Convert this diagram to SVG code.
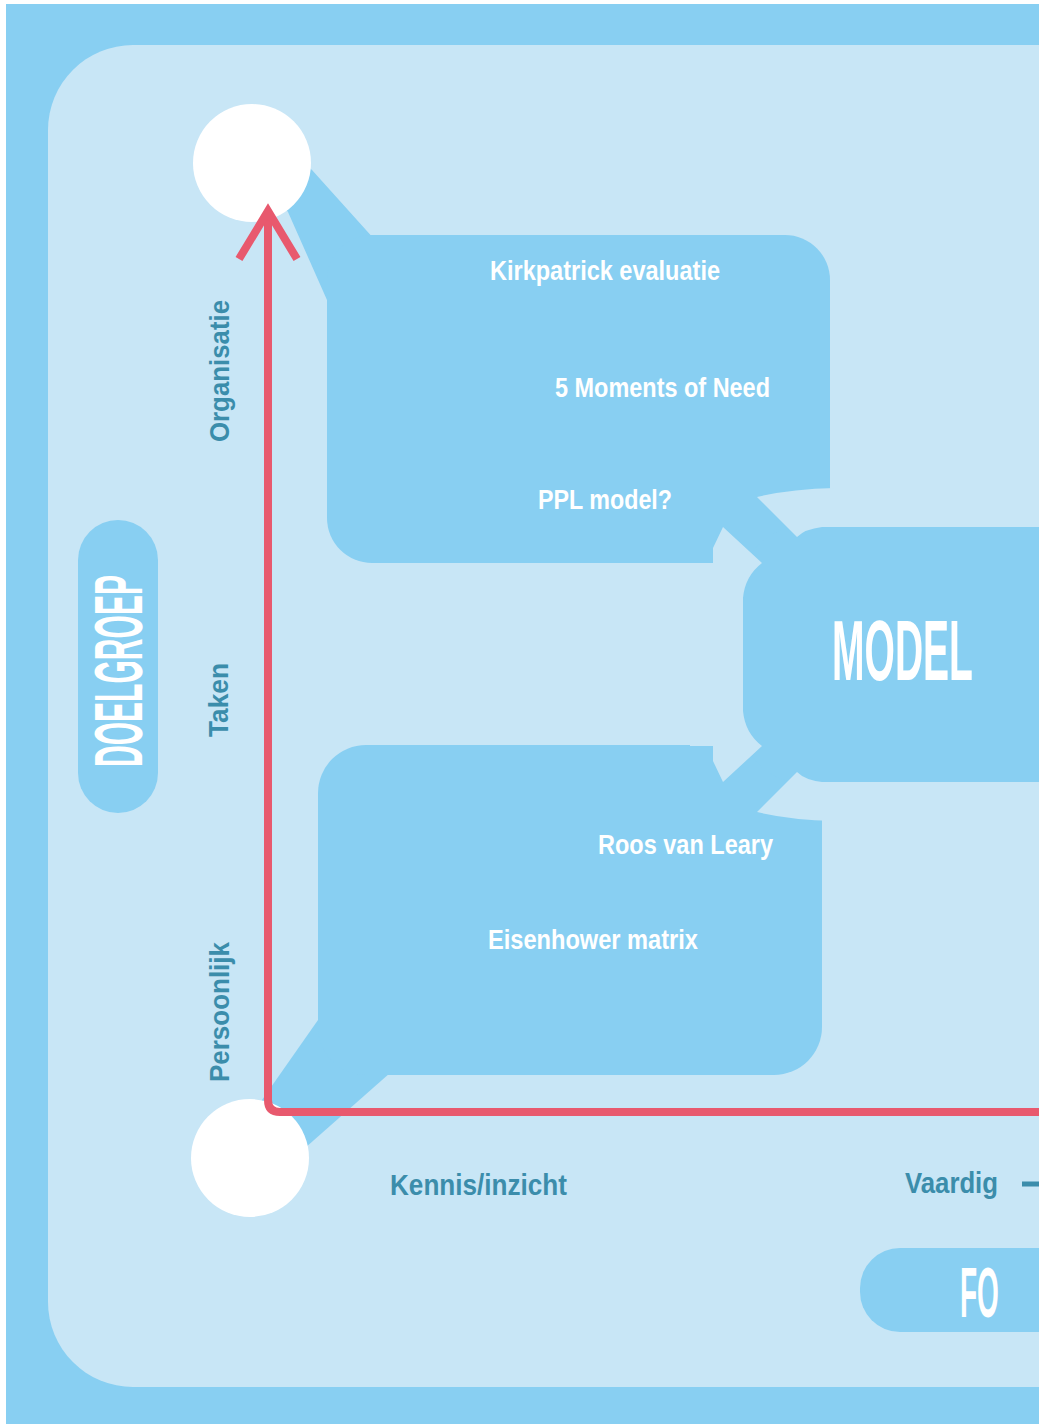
<svg xmlns="http://www.w3.org/2000/svg" width="1039" height="1424" viewBox="0 0 1039 1424">
<style>
.mid{fill:#88cff2}
.lt{fill:#c8e6f6}
.wt{fill:#ffffff;font-family:"Liberation Sans",Arial,sans-serif;font-weight:bold}
.tl{fill:#3b8dab;font-family:"Liberation Sans",Arial,sans-serif;font-weight:bold}
.big{fill:#ffffff;font-family:"Liberation Sans",Arial,sans-serif;font-weight:bold}
.red{fill:none;stroke:#e8596e;stroke-width:8}
</style>
<rect x="0" y="0" width="1039" height="1424" fill="#ffffff"/>
<rect x="6" y="4" width="1040" height="1430" class="mid"/>
<rect x="48" y="45" width="1100" height="1342" rx="85" class="lt"/>

<g id="connectors">
<path class="mid" d="M290,150 L312,170 L375,240 L327,300 L288,212 L262,178 Z"/>
<path class="mid" d="M318,1020 L390,1073 L305,1148 L250,1158 L262,1100 Z"/>
<path class="mid" d="M700,470 H830 V782 H822 V805 H700 Z"/>
</g>

<g id="node-top-box">
<rect x="327" y="235" width="503" height="328" rx="45" class="mid"/>
<rect x="700" y="470" width="130" height="93" class="mid"/>
<text class="wt" x="490" y="280" font-size="27" textLength="230" lengthAdjust="spacingAndGlyphs">Kirkpatrick evaluatie</text>
<text class="wt" x="555" y="397" font-size="27" textLength="215" lengthAdjust="spacingAndGlyphs">5 Moments of Need</text>
<text class="wt" x="538" y="509" font-size="27" textLength="134" lengthAdjust="spacingAndGlyphs">PPL model?</text>
</g>

<g id="node-bottom-box">
<rect x="318" y="745" width="504" height="330" rx="48" class="mid"/>
<rect x="700" y="745" width="122" height="60" class="mid"/>
</g>

<g id="node-model">
<path class="mid" d="M800,527 H1045 V782 H800 A57,57 0 0 1 743,725 V584 A57,57 0 0 1 800,527 Z"/>
<path class="lt" d="M757,497 Q790,489 835,488 L835,527 L822,527 Q805,529 797,537 Z"/>
<path class="lt" d="M757,812 Q790,820 835,821 L835,782 L822,782 Q805,780 797,772 Z"/>
<path class="lt" d="M690,563 H713 L713,548 L723,527 L762,563 Q745,576 743,598 V711 Q745,733 762,746 L723,782 L713,761 V746 H690 Z"/>
<text class="big" transform="translate(832,680) scale(0.454,1)" x="0" y="0" font-size="86">MODEL</text>
</g>

<g id="node-bottom-box-labels">
<text class="wt" x="598" y="854" font-size="27" textLength="175" lengthAdjust="spacingAndGlyphs">Roos van Leary</text>
<text class="wt" x="488" y="949" font-size="27" textLength="210" lengthAdjust="spacingAndGlyphs">Eisenhower matrix</text>
</g>

<g id="node-organisatie">
<circle cx="252" cy="163" r="59" fill="#ffffff"/>
</g>
<g id="node-persoonlijk">
<circle cx="250" cy="1158" r="59" fill="#ffffff"/>
</g>

<g id="axis-connectors">
<path class="red" d="M268,214 V1100 Q268,1112 280,1112 H1045"/>
<polyline class="red" points="239,259 268,211 297,259" stroke-linejoin="miter"/>
<line x1="1022" y1="1184" x2="1045" y2="1184" stroke="#3b8dab" stroke-width="5"/>
</g>

<g id="node-doelgroep">
<rect x="78" y="520" width="80" height="293" rx="40" class="mid"/>
<text class="big" transform="translate(142,671) rotate(-90)" x="0" y="0" text-anchor="middle" font-size="68" textLength="192" lengthAdjust="spacingAndGlyphs">DOELGROEP</text>
</g>

<g id="labels-axis">
<text class="tl" transform="translate(229,371) rotate(-90)" text-anchor="middle" font-size="28" textLength="142" lengthAdjust="spacingAndGlyphs">Organisatie</text>
<text class="tl" transform="translate(228,700) rotate(-90)" text-anchor="middle" font-size="28" textLength="74" lengthAdjust="spacingAndGlyphs">Taken</text>
<text class="tl" transform="translate(229,1012) rotate(-90)" text-anchor="middle" font-size="28" textLength="140" lengthAdjust="spacingAndGlyphs">Persoonlijk</text>
<text class="tl" x="390" y="1195" font-size="29" textLength="177" lengthAdjust="spacingAndGlyphs">Kennis/inzicht</text>
<text class="tl" x="905" y="1193" font-size="29" textLength="93" lengthAdjust="spacingAndGlyphs">Vaardig</text>
</g>

<g id="node-fo">
<rect x="860" y="1248" width="240" height="84" rx="40" class="mid"/>
<text class="big" transform="translate(960,1317) scale(0.40,1)" x="0" y="0" font-size="70">FO</text>
</g>
</svg>
